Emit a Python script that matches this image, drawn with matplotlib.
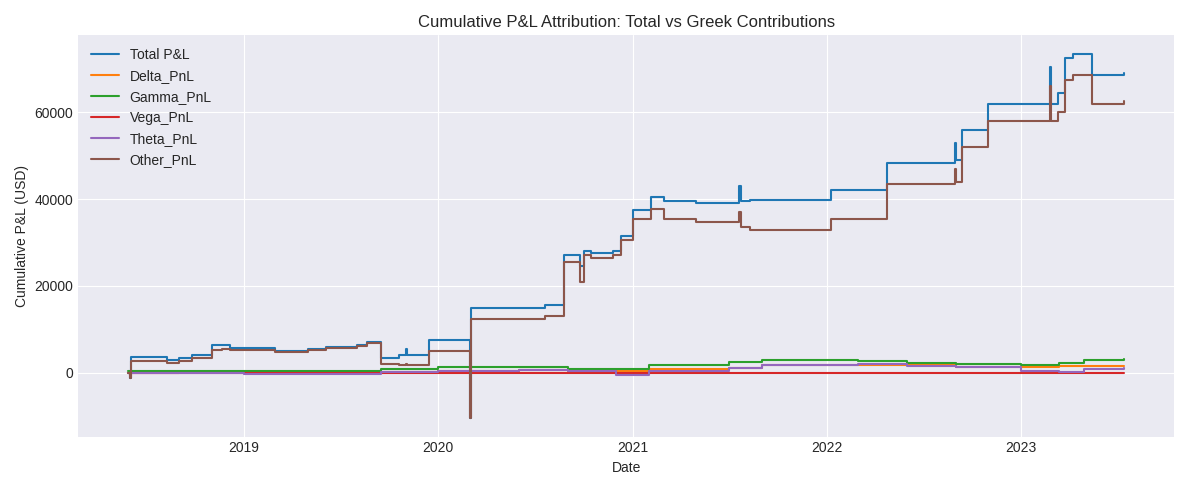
import matplotlib
matplotlib.use("Agg")
import matplotlib.pyplot as plt
import pandas as pd

plt.style.use("seaborn-v0_8-darkgrid")

total_dates = ["2018-05-28", "2018-06-01", "2018-06-03", "2018-08-10", "2018-09-01", "2018-09-25",
               "2018-11-01", "2018-11-20", "2018-12-05", "2019-03-01", "2019-05-01", "2019-06-05",
               "2019-08-01", "2019-08-20", "2019-09-15", "2019-10-20", "2019-11-01", "2019-11-04",
               "2019-12-15", "2020-02-28", "2020-03-01", "2020-03-03", "2020-07-20", "2020-08-25",
               "2020-09-25", "2020-10-01", "2020-10-15", "2020-11-25", "2020-12-10", "2021-01-01",
               "2021-02-05", "2021-03-01", "2021-05-01", "2021-07-20", "2021-07-24", "2021-08-10",
               "2022-01-10", "2022-04-25", "2022-08-30", "2022-09-02", "2022-09-12", "2022-11-01",
               "2023-02-25", "2023-02-28", "2023-03-12", "2023-03-25", "2023-04-10", "2023-05-15",
               "2023-07-15"]
total_vals = [0, -1200, 3700, 3000, 3500, 4000,
              6300, 6500, 5600, 5000, 5500, 6000,
              6500, 7000, 3500, 4000, 5500, 4000,
              7500, 7600, -10500, 14800, 15500, 27000,
              24500, 28000, 27500, 28000, 31500, 37500,
              40500, 39500, 39000, 43000, 39500, 39800,
              42000, 48300, 53000, 49000, 56000, 62000,
              70500, 62000, 64500, 72500, 73500, 68500,
              69000]

other_dates = total_dates
other_vals = [0, -1200, 2800, 2200, 2700, 3300,
              5300, 5400, 5300, 4800, 5200, 5700,
              6200, 6900, 2000, 1800, 2100, 1800,
              5000, 5100, -10500, 12300, 13000, 25500,
              21000, 27000, 26500, 27000, 30500, 35500,
              37800, 35500, 34800, 37000, 33500, 32800,
              35500, 43500, 47000, 44000, 52000, 58000,
              66000, 58000, 60000, 67500, 68500, 62000,
              62500]

greek_dates = ["2018-05-28", "2018-09-01", "2019-01-01", "2019-06-01", "2019-09-15", "2020-01-01",
               "2020-06-01", "2020-09-01", "2020-12-01", "2021-02-01", "2021-07-01", "2021-09-01",
               "2022-03-01", "2022-06-01", "2022-09-01", "2023-01-01", "2023-03-15", "2023-05-01",
               "2023-07-15"]
delta_vals = [0, 100, 0, 0, 200, 500, 600, 500, 300, 800, 1000, 1800, 1800, 1700, 1400, 1400, 1500, 1600, 1500]
gamma_vals = [500, 500, 400, 500, 900, 1300, 1400, 800, 800, 1800, 2400, 2900, 2800, 2300, 1900, 1800, 2200, 3000, 3200]
vega_vals = [0, 0, 0, -50, 0, 0, 0, 0, 0, 0, 0, 0, 0, 0, 0, 0, -50, -50, -50]
theta_vals = [0, -100, -300, -400, 200, 500, 600, 300, -500, 500, 1000, 1800, 1900, 1500, 1300, 300, 200, 800, 1200]

series = [
    ("Total P&L", total_dates, total_vals, "#1f77b4"),
    ("Delta_PnL", greek_dates, delta_vals, "#ff7f0e"),
    ("Gamma_PnL", greek_dates, gamma_vals, "#2ca02c"),
    ("Vega_PnL", greek_dates, vega_vals, "#d62728"),
    ("Theta_PnL", greek_dates, theta_vals, "#9467bd"),
    ("Other_PnL", other_dates, other_vals, "#8c564b"),
]

fig, ax = plt.subplots(figsize=(11.89, 4.9), dpi=100)
for name, d, v, c in series:
    ax.plot(pd.to_datetime(d), v, drawstyle="steps-post", color=c, lw=1.5, label=name)

ax.set_title("Cumulative P&L Attribution: Total vs Greek Contributions")
ax.set_xlabel("Date")
ax.set_ylabel("Cumulative P&L (USD)")
ax.legend(loc="upper left")
fig.tight_layout()
fig.savefig("out.png", dpi=100)
